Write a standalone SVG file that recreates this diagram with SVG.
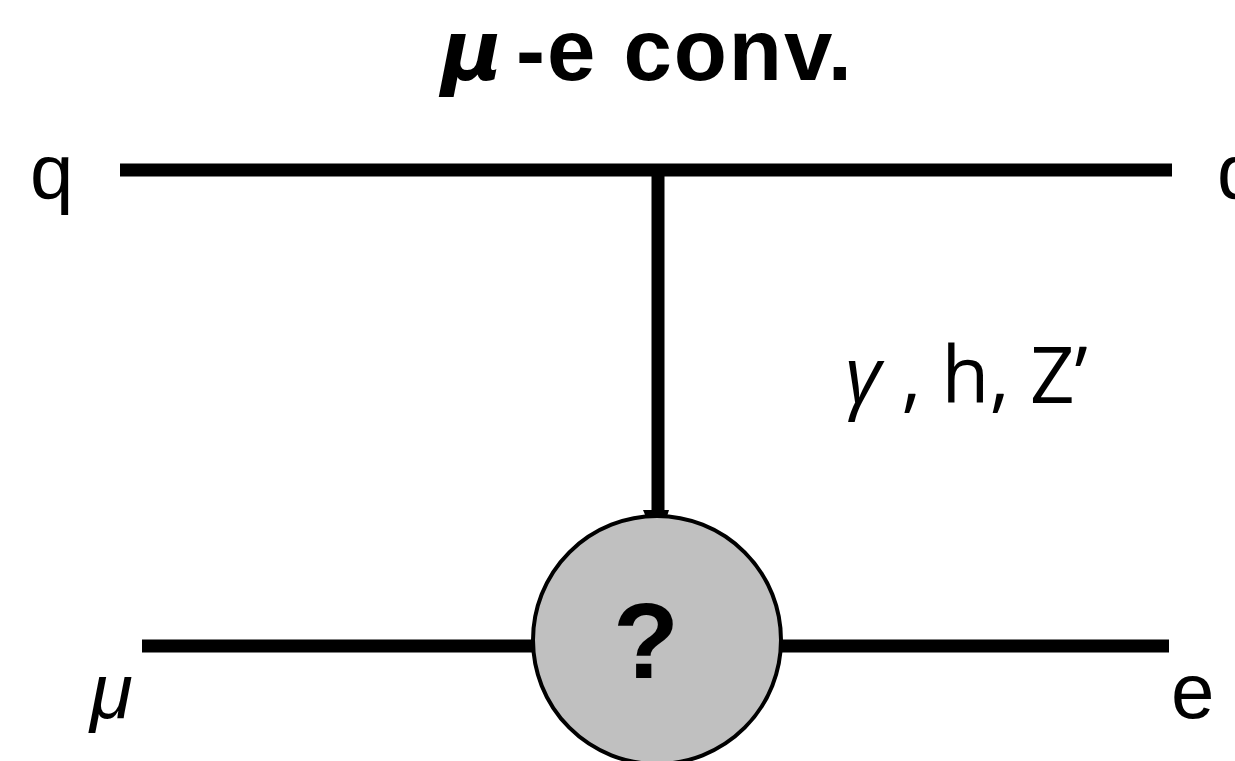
<svg xmlns="http://www.w3.org/2000/svg" width="1235" height="761" viewBox="0 0 1235 761">
<style>
.lbl{font-family:"Liberation Sans",Arial,sans-serif;font-size:78px;fill:#000}
.ttl{font-family:"Liberation Sans",Arial,sans-serif;font-size:87px;font-weight:bold;fill:#000}
.med{font-family:"Open Sans","Noto Sans",sans-serif;font-size:78px;fill:#000}
.ln{stroke:#000;stroke-width:13;fill:none}
</style>
<rect width="1235" height="761" fill="#fff"/>
<g id="title">
<text x="441" y="80" font-style="italic" style="font-family:'DejaVu Sans',sans-serif;font-size:84px;font-weight:bold">μ</text>
<text class="ttl" x="516" y="80" textLength="336" lengthAdjust="spacing">-e conv.</text>
</g>
<g id="connectors">
<line id="quark-line" class="ln" x1="120" y1="170" x2="1172" y2="170" stroke-width="14"/>
<line id="lepton-line" class="ln" x1="142" y1="646" x2="1169" y2="646"/>
<line id="mediator" class="ln" x1="658" y1="176" x2="658" y2="512"/>
<polygon points="643,510 669,510 658,545" fill="#000"/>
</g>
<g id="label-q-in"><text class="lbl" x="30" y="199">q</text></g>
<g id="label-q-out"><text class="lbl" x="1217" y="199">q</text></g>
<g id="label-mediator"><text class="med" x="845" y="403"><tspan font-style="italic">γ</tspan> , h, Z’</text></g>
<g id="label-mu"><text class="lbl" x="90" y="718" font-style="italic">μ</text></g>
<g id="label-e"><text class="lbl" x="1171" y="718">e</text></g>
<g id="blob">
<circle cx="657" cy="640" r="124" fill="#c0c0c0" stroke="#000" stroke-width="4"/>
<text x="646" y="678" text-anchor="middle" style="font-family:'Liberation Sans',Arial,sans-serif;font-size:108px;font-weight:bold">?</text>
</g>
</svg>
